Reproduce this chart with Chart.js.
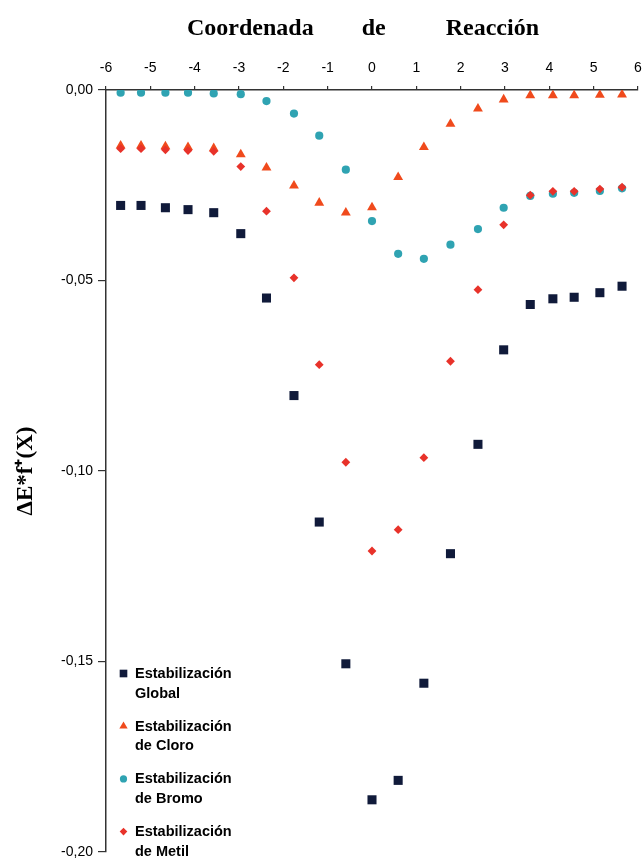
<!DOCTYPE html>
<html>
<head>
<meta charset="utf-8">
<script src="https://cdn.jsdelivr.net/npm/chart.js@4/dist/chart.umd.min.js"></script>
<style>
  html, body { margin: 0; padding: 0; background: #fff; }
  canvas { display: block; }
</style>
</head>
<body>
<canvas id="chart" width="643" height="860"></canvas>
<script>
// reaction coordinate (x) and the four stabilisation series
const coordX = [-5.67, -5.21, -4.66, -4.15, -3.57, -2.96, -2.38, -1.76, -1.19, -0.59, 0.00,
  0.59, 1.17, 1.77, 2.39, 2.97, 3.57, 4.08, 4.56, 5.14, 5.64];

const global = [-0.0303, -0.0303, -0.0309, -0.0314, -0.0322, -0.0377, -0.0546, -0.0802, -0.1134, -0.1506, -0.1863,
  -0.1812, -0.1557, -0.1217, -0.0930, -0.0682, -0.0563, -0.0548, -0.0544, -0.0532, -0.0515];
const cloro = [-0.0146, -0.0146, -0.0148, -0.0150, -0.0153, -0.0169, -0.0204, -0.0251, -0.0296, -0.0322, -0.0308,
  -0.0229, -0.0150, -0.0089, -0.0049, -0.0025, -0.0014, -0.0014, -0.0014, -0.0013, -0.0012];
const bromo = [-0.0007, -0.0007, -0.0007, -0.0007, -0.0009, -0.0011, -0.0029, -0.0062, -0.0120, -0.0209, -0.0344,
  -0.0430, -0.0443, -0.0406, -0.0365, -0.0309, -0.0278, -0.0272, -0.0270, -0.0265, -0.0258];
const metil = [-0.0154, -0.0154, -0.0157, -0.0159, -0.0161, -0.0201, -0.0318, -0.0493, -0.0721, -0.0977, -0.1210,
  -0.1154, -0.0965, -0.0712, -0.0524, -0.0354, -0.0276, -0.0266, -0.0266, -0.0260, -0.0255];

const seriesNames = [
  ["Estabilización", "Global"],
  ["Estabilización", "de Cloro"],
  ["Estabilización", "de Bromo"],
  ["Estabilización", "de Metil"]
];

const xTitle = "Coordenada        de          Reacción   ";
const yTitle = "ΔE*f⁺(X)";

const toPoints = ys => ys.map((y, i) => ({ x: coordX[i], y: y }));

const serif = "'Liberation Serif', 'Times New Roman', serif";
const sans = "'Liberation Sans', Arial, sans-serif";

// legend drawn inside the plot, two lines per item
const legendPlugin = {
  id: "innerLegend",
  afterDraw(chart) {
    const ctx = chart.ctx;
    const sizes = [5.4, 4.8, 3.6, 3.8];
    ctx.save();
    ctx.font = "bold 14.5px " + sans;
    ctx.textBaseline = "alphabetic";
    ctx.textAlign = "left";
    chart.data.datasets.forEach((ds, i) => {
      const top = 678 + i * 52.7;
      ctx.fillStyle = ds.backgroundColor;
      ctx.strokeStyle = ds.backgroundColor;
      Chart.helpers.drawPoint(ctx, { pointStyle: ds.pointStyle, radius: sizes[i], rotation: 0, borderWidth: 0 },
        123.5, top - 4.5);
      ctx.fillStyle = "#000";
      ctx.fillText(seriesNames[i][0], 135, top);
      ctx.fillText(seriesNames[i][1], 135, top + 19.5);
    });
    ctx.restore();
  }
};

new Chart(document.getElementById("chart"), {
  type: "scatter",
  data: {
    datasets: [
      { label: "Estabilización Global", data: toPoints(global), pointStyle: "rect", pointRadius: 6.4,
        backgroundColor: "#101a3a", borderColor: "#101a3a", borderWidth: 0, order: 3 },
      { label: "Estabilización de Cloro", data: toPoints(cloro), pointStyle: "triangle", pointRadius: 5.7,
        backgroundColor: "#f04a1c", borderColor: "#f04a1c", borderWidth: 0, order: 2 },
      { label: "Estabilización de Bromo", data: toPoints(bromo), pointStyle: "circle", pointRadius: 4.1,
        backgroundColor: "#2fa3b2", borderColor: "#2fa3b2", borderWidth: 0, order: 1 },
      { label: "Estabilización de Metil", data: toPoints(metil), pointStyle: "rectRot", pointRadius: 4.4,
        backgroundColor: "#e8322a", borderColor: "#e8322a", borderWidth: 0, order: 0 }
    ]
  },
  options: {
    responsive: false,
    animation: false,
    layout: { autoPadding: false, padding: { left: 0, right: 5, top: 0, bottom: 8 } },
    plugins: {
      legend: { display: false },
      tooltip: { enabled: false }
    },
    scales: {
      x: {
        type: "linear",
        position: "top",
        min: -6,
        max: 6,
        afterFit: scale => {
          scale.height = 90;
          scale.paddingLeft = 0;
          scale.paddingRight = 0;
        },
        border: { display: true, color: "#333", width: 1.5 },
        grid: { drawOnChartArea: false, drawTicks: true, tickLength: 4, color: "#333", lineWidth: 1.2 },
        ticks: {
          stepSize: 1,
          padding: 9,
          color: "#000",
          font: { family: sans, size: 14 },
          callback: v => String(v)
        },
        title: {
          display: true,
          text: xTitle,
          color: "#000",
          font: { family: serif, size: 24, weight: "bold" },
          padding: { top: 14, bottom: 0 }
        }
      },
      y: {
        type: "linear",
        min: -0.2,
        max: 0,
        afterFit: scale => {
          scale.width = 106;
          scale.paddingTop = 0;
          scale.paddingBottom = 0;
        },
        border: { display: true, color: "#333", width: 1.5 },
        grid: { drawOnChartArea: false, drawTicks: true, tickLength: 8, color: "#333", lineWidth: 1.2 },
        ticks: {
          stepSize: 0.05,
          padding: 5,
          color: "#000",
          font: { family: sans, size: 14 },
          callback: v => v.toFixed(2).replace(".", ",")
        },
        title: {
          display: true,
          text: yTitle,
          color: "#000",
          font: { family: serif, size: 23, weight: "bold" },
          padding: { top: 12, bottom: 0 }
        }
      }
    }
  },
  plugins: [legendPlugin]
});
</script>
</body>
</html>
